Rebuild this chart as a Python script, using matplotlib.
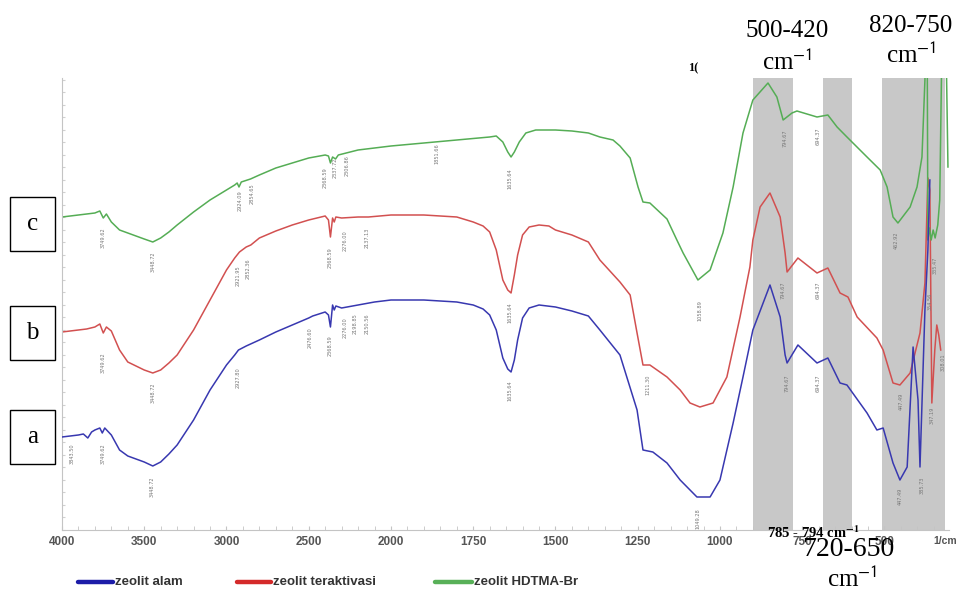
import numpy as np
import matplotlib
matplotlib.use("Agg")
import matplotlib.pyplot as plt
from matplotlib.lines import Line2D
from matplotlib.patches import Rectangle
from matplotlib.ticker import FixedLocator, NullFormatter

plt.rcParams['mathtext.fontset'] = 'stix'

# --- spectra: wavenumber (1/cm) and transmittance (arbitrary units, offset per sample)
wn_c = [4000, 3950, 3900, 3850, 3800, 3770, 3749, 3730, 3700, 3650, 3600, 3550, 3500, 3448,
        3400, 3350, 3300, 3200, 3100, 3000, 2950, 2935, 2924, 2910, 2854, 2800, 2700, 2600,
        2500, 2400, 2380, 2368, 2355, 2337, 2320, 2200, 2100, 2000, 1900, 1800, 1700, 1680,
        1660, 1645, 1635, 1625, 1610, 1590, 1560, 1500, 1450, 1400, 1365, 1325, 1304, 1273,
        1249, 1234, 1213, 1161, 1131, 1112, 1067, 1030, 991, 960, 930, 900, 854, 827, 808,
        781, 766, 705, 672, 644, 614, 553, 513, 492, 474, 459, 422, 401, 386, 377, 374, 370,
        368, 363, 358, 352, 346, 338, 332, 326, 312, 307]
t_c = [313, 314, 315, 316, 317, 319, 312, 316, 308, 300, 297, 294, 291, 288,
       292, 298, 305, 318, 330, 340, 345, 347, 343, 348, 351, 355, 362, 367,
       372, 375, 374, 367, 373, 371, 375, 380, 382, 384, 387, 390, 393, 394,
       388, 378, 373, 378, 388, 397, 400, 400, 399, 397, 393, 390, 384, 372,
       343, 328, 327, 311, 290, 277, 250, 260, 297, 343, 397, 430, 447, 433, 410,
       417, 419, 413, 415, 403, 393, 373, 360, 343, 313, 307, 323, 343, 373, 450, 480, 480,
       290, 302, 290, 300, 292, 305, 330, 470, 470, 363]

wn_b = [4000, 3950, 3900, 3850, 3800, 3770, 3749, 3730, 3700, 3650, 3600, 3550, 3500, 3448,
        3400, 3350, 3300, 3200, 3100, 3000, 2950, 2921, 2880, 2852, 2800, 2700, 2600, 2500,
        2400, 2380, 2368, 2355, 2345, 2335, 2300, 2200, 2137, 2000, 1900, 1800, 1750, 1720,
        1700, 1680, 1660, 1645, 1635, 1625, 1615, 1600, 1580, 1550, 1520, 1500, 1450, 1400,
        1365, 1304, 1273, 1252, 1234, 1213, 1161, 1121, 1091, 1061, 1021, 979, 939, 909, 900,
        878, 848, 817, 802, 796, 763, 705, 672, 635, 611, 583, 523, 504, 474, 453, 422, 392,
        377, 368, 362, 356, 347, 341, 335, 329]
t_b = [198, 199, 200, 201, 203, 206, 197, 203, 199, 180, 168, 164, 160, 157,
       160, 167, 175, 200, 230, 260, 272, 278, 283, 285, 292, 299, 305, 310,
       314, 310, 293, 312, 308, 313, 312, 313, 313, 315, 315, 313, 308, 304,
       298, 280, 250, 240, 237, 255, 275, 295, 303, 305, 304, 300, 295, 288,
       270, 248, 235, 197, 165, 165, 153, 140, 127, 123, 127, 153, 213, 263, 290,
       323, 337, 313, 277, 258, 272, 257, 262, 237, 233, 213, 192, 180, 147, 145, 157, 197,
       247, 352, 340, 127, 180, 205, 195, 180]

wn_a = [4000, 3950, 3900, 3870, 3843, 3820, 3800, 3770, 3755, 3740, 3700, 3650, 3600, 3550,
        3500, 3448, 3400, 3350, 3300, 3200, 3100, 3000, 2950, 2927, 2880, 2800, 2700, 2600,
        2500, 2476, 2400, 2380, 2368, 2355, 2345, 2335, 2300, 2200, 2100, 2000, 1900, 1800,
        1750, 1720, 1700, 1680, 1660, 1645, 1635, 1625, 1615, 1600, 1580, 1550, 1500, 1450,
        1400, 1365, 1304, 1252, 1234, 1204, 1161, 1121, 1070, 1030, 1000, 960, 930, 900, 848,
        817, 802, 796, 763, 705, 672, 635, 614, 553, 523, 504, 474, 453, 431, 413, 398, 392,
        377, 368, 362]
t_a = [93, 94, 95, 96, 92, 98, 100, 102, 97, 102, 95, 80, 74, 71,
       68, 64, 68, 76, 85, 110, 140, 165, 175, 180, 184, 190, 198, 205,
       212, 214, 218, 215, 203, 225, 220, 224, 222, 225, 228, 230, 230, 228,
       225, 221, 215, 200, 172, 161, 158, 170, 190, 212, 222, 225, 223, 219,
       214, 200, 175, 120, 80, 78, 67, 50, 33, 33, 50, 107, 153, 200, 245,
       213, 175, 167, 185, 167, 172, 147, 145, 117, 100, 102, 67, 50, 63, 183, 130, 63,
       220, 280, 350]

# peak labels (wavenumber position, label top, text)
peaks_c = [(3751, 303, "3749.62"), (3447, 278, "3448.72"), (2918, 340, "2924.09"),
           (2845, 347, "2854.65"), (2401, 363, "2368.59"), (2340, 372, "2337.72"),
           (2267, 375, "2306.86"), (1860, 387, "1851.66"), (1638, 362, "1635.64"),
           (1061, 230, "1058.89"), (802, 400, "794.67"), (702, 402, "694.37"),
           (465, 298, "462.92"), (347, 273, "335.47")]
peaks_b = [(3751, 178, "3749.62"), (3447, 147, "3448.72"), (2930, 265, "2921.95"),
           (2869, 272, "2852.36"), (2371, 283, "2368.59"), (2280, 300, "2276.00"),
           (2146, 302, "2137.13"), (1638, 228, "1635.64"), (1219, 155, "1211.30"),
           (808, 248, "794.67"), (702, 248, "694.37"), (450, 137, "447.49"),
           (362, 237, "354.56"), (356, 123, "347.19"), (322, 177, "308.01")]
peaks_a = [(3939, 87, "3843.50"), (3751, 87, "3749.62"), (3453, 53, "3448.72"),
           (2930, 163, "2927.80"), (2492, 203, "2476.60"), (2371, 195, "2368.59"),
           (2280, 213, "2276.00"), (2219, 217, "2198.85"), (2146, 217, "2150.56"),
           (1638, 150, "1635.64"), (1067, 22, "1049.28"), (796, 155, "794.67"),
           (702, 155, "694.37"), (453, 42, "447.49"), (386, 53, "385.73")]

bands = [(900, 778), (687, 599), (508, 316)]

major_ticks = [4000, 3500, 3000, 2500, 2000, 1750, 1500, 1250, 1000, 750, 500]
minor_ticks = list(range(4000, 2000, -100)) + list(range(2000, 300, -50))

legend_names = ["zeolit alam", "zeolit teraktivasi", "zeolit HDTMA-Br"]


def fwd(w):
    w = np.asarray(w, dtype=float)
    return np.where(w >= 2000, -(4000 - w) / 500.0, -(4 + (2000 - w) / 250.0))


def inv(u):
    u = np.asarray(u, dtype=float)
    return np.where(u >= -4, 4000 + u * 500.0, 2000 + (u + 4) * 250.0)


fig = plt.figure(figsize=(9.58, 5.9), dpi=100)
ax = fig.add_axes([0.0647, 0.1017, 0.9255, 0.7661])
ax.set_xscale('function', functions=(fwd, inv))
ax.set_xlim(4000, 305)
ax.set_ylim(0, 452)

for lo, hi in bands:
    ax.axvspan(hi, lo, color='#c8c8c8', lw=0, zorder=0)

blue, red, green = '#3838b0', '#d25050', '#55ad55'
ax.plot(wn_a, t_a, color=blue, lw=1.1, zorder=3)
ax.plot(wn_b, t_b, color=red, lw=1.1, zorder=2)
ax.plot(wn_c, t_c, color=green, lw=1.1, zorder=2)

for peaks in (peaks_c, peaks_b, peaks_a):
    for w, v, s in peaks:
        ax.text(w, v, s, rotation=90, fontsize=3.6, color='#777777',
                ha='center', va='top', zorder=4)

for side in ('top', 'right'):
    ax.spines[side].set_visible(False)
for side in ('left', 'bottom'):
    ax.spines[side].set_color('#c4c4c4')
    ax.spines[side].set_linewidth(0.8)

ax.xaxis.set_major_locator(FixedLocator(major_ticks))
ax.xaxis.set_minor_locator(FixedLocator(minor_ticks))
ax.set_xticklabels([str(t) for t in major_ticks])
ax.xaxis.set_minor_formatter(NullFormatter())
ax.tick_params(axis='x', which='both', direction='in', color='#c4c4c4', length=3,
               pad=4, labelsize=8.5, labelcolor='#555555')
for lab in ax.get_xticklabels():
    lab.set_fontweight('bold')
    lab.set_family('Liberation Sans')
ax.set_yticks(np.arange(0, 452, 12.5))
ax.set_yticklabels([])
ax.tick_params(axis='y', direction='in', color='#d0d0d0', length=2.5)

fig.text(945 / 958, 1 - 541 / 590, "1/cm", fontsize=7.5, fontweight='bold',
         color='#555555', ha='center', va='center', family='Liberation Sans')

# sample boxes
for letter, y0 in (("c", 197), ("b", 306), ("a", 410)):
    fig.add_artist(Rectangle((10 / 958, 1 - (y0 + 54) / 590), 45 / 958, 54 / 590,
                             transform=fig.transFigure, fc='white', ec='black', lw=1.0))
    fig.text(32.5 / 958, 1 - (y0 + 27) / 590, letter, fontsize=18, family='Liberation Serif',
             ha='center', va='center')

# band annotations
serif = dict(family='Liberation Serif', ha='center', va='center', color='black')
fig.text(787 / 958, 1 - 31 / 590, "500-420", fontsize=18, **serif)
fig.text(787 / 958, 1 - 62 / 590, r"cm$^{\mathsf{-1}}$", fontsize=18, **serif)
fig.text(911 / 958, 1 - 26 / 590, "820-750", fontsize=18, **serif)
fig.text(911 / 958, 1 - 55 / 590, r"cm$^{\mathsf{-1}}$", fontsize=18, **serif)
fig.text(848 / 958, 1 - 550 / 590, "720-650", fontsize=20, **serif)
fig.text(852 / 958, 1 - 579 / 590, r"cm$^{\mathsf{-1}}$", fontsize=18, **serif)
fig.text(813 / 958, 1 - 533 / 590, r"785 - 794 cm$^{\mathbf{-1}}$", fontsize=10.5,
         fontweight='bold', **serif)
fig.text(693 / 958, 1 - 68 / 590, "1(", fontsize=9, fontweight='bold', **serif)

# legend
leg_colors = ['#1c1ca8', '#d42a2a', '#58b058']
leg_x = [(78, 113), (237, 271), (435, 472)]
ly = 1 - 582 / 590
for (x0, x1), col, name in zip(leg_x, leg_colors, legend_names):
    fig.add_artist(Line2D([x0 / 958, x1 / 958], [ly, ly], transform=fig.transFigure,
                          color=col, lw=3.2, solid_capstyle='round'))
    fig.text((x1 + 2) / 958, ly, name, fontsize=9.5, fontweight='bold', color='#333333',
             ha='left', va='center', family='Liberation Sans')

fig.savefig("out.png", dpi=100)
